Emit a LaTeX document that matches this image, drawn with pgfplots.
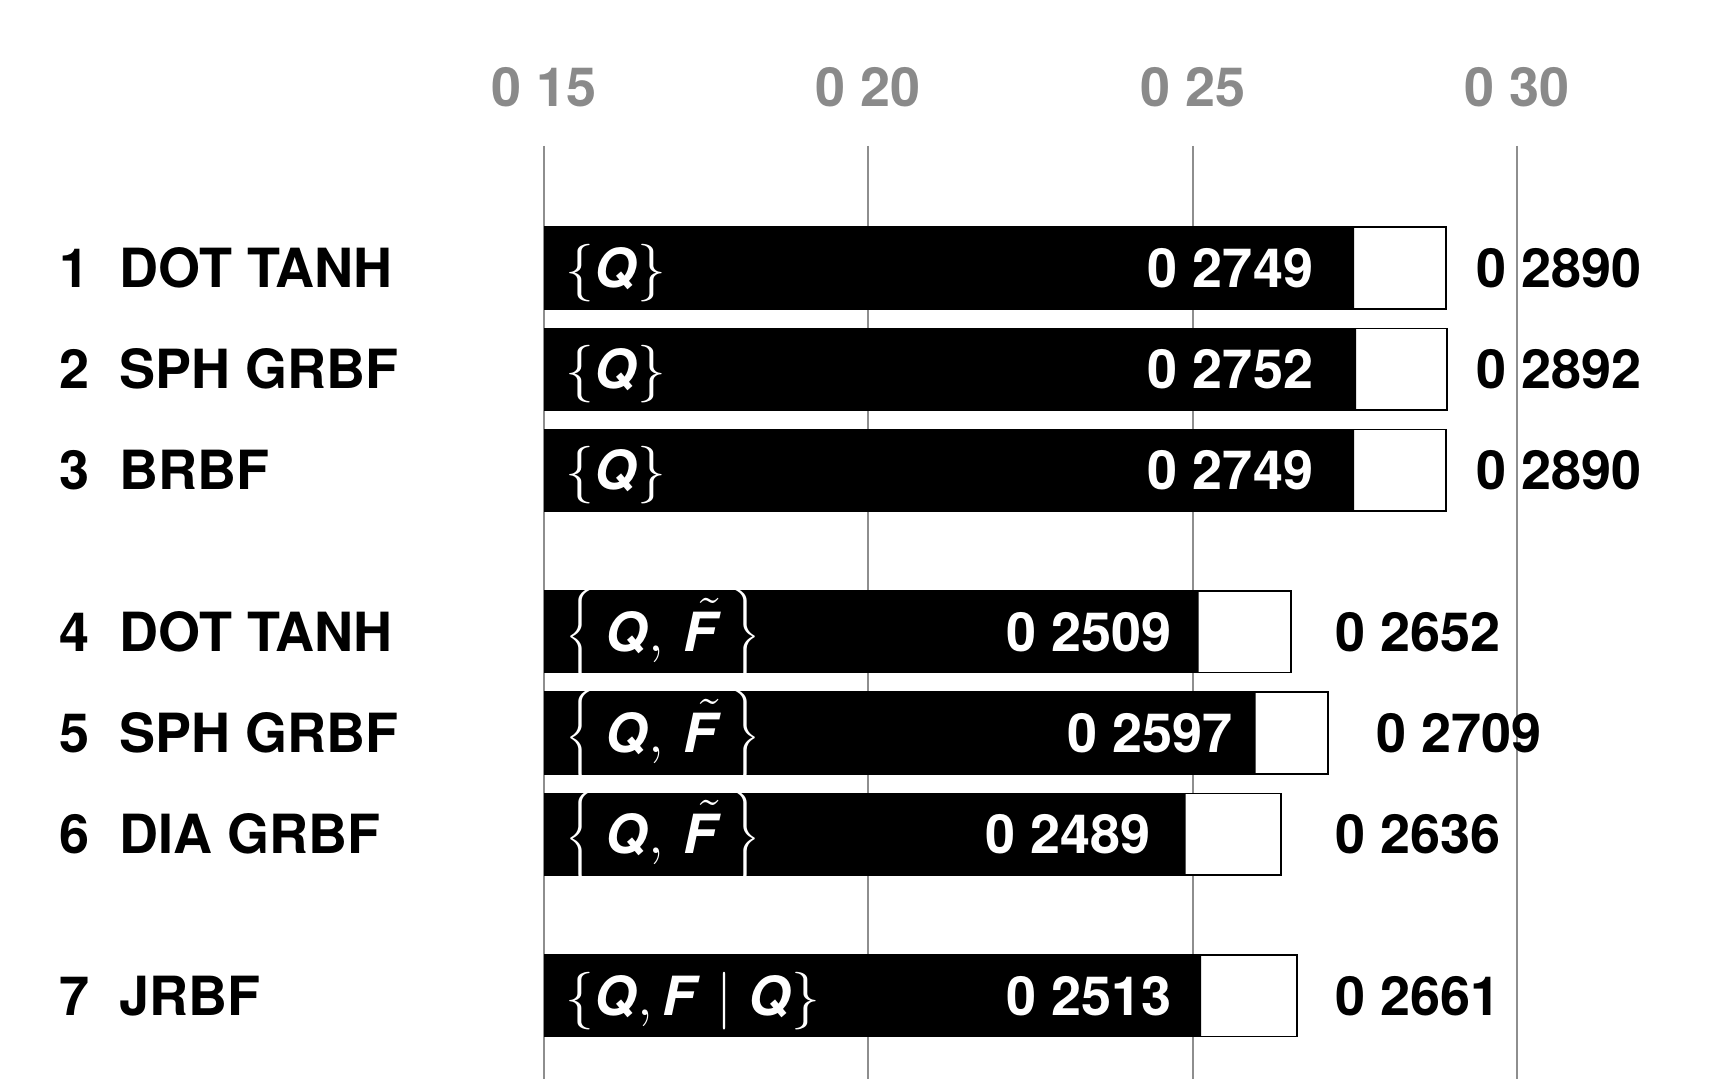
\documentclass[border=0pt]{standalone}
\usepackage{pgfplots}
\pgfplotsset{compat=1.18}
\usepackage{pgfplotstable}
\usepackage{fontspec}
\setmainfont{TeX Gyre Heros}
\definecolor{gridgray}{HTML}{8E8E8E}
\definecolor{tickgray}{HTML}{8A8A8A}
\newcommand{\lab}[1]{\makebox[15.1pt][l]{#1}}
\newcommand{\bi}[1]{\textbf{\textit{#1}}}
\newcommand{\mainfont}{\fontsize{13.5}{16}\selectfont\bfseries}
\newcommand{\Ft}{\skew{5}\tilde{\bi{F}}}
\tikzset{setlab/.style={anchor=base west, inner sep=0pt, text=white, yshift=-4.85pt}}

% y: row position, a: black bar end, b: white box end
\pgfplotstableread{
y    a      b
0    0.2749 0.2890
1    0.2752 0.2892
2    0.2749 0.2890
3.6  0.2509 0.2652
4.6  0.2597 0.2709
5.6  0.2489 0.2636
7.2  0.2513 0.2661
}\datatable

\begin{document}
\begin{tikzpicture}
\mainfont
\begin{axis}[
  scale only axis, width=243.25pt, height=233.25pt,
  xmin=0.15, xmax=0.30, ymin=-1.207, ymax=8.022, y dir=reverse,
  axis line style={draw=none}, major tick length=0pt,
  clip mode=individual,
  xtick={0.15,0.20,0.25,0.30}, xticklabels={0 15,0 20,0 25,0 30},
  xticklabel pos=upper,
  xticklabel style={anchor=base, yshift=9.85pt, inner sep=0pt, text=tickgray, font=\mainfont},
  ytick={0,1,2,3.6,4.6,5.6,7.2},
  yticklabels={\lab{1}DOT TANH,\lab{2}SPH GRBF,\lab{3}BRBF,\lab{4}DOT TANH,\lab{5}SPH GRBF,\lab{6}DIA GRBF,\lab{7}JRBF},
  yticklabel style={anchor=west, xshift=-121.4pt, inner sep=0pt, font=\mainfont},
  xmajorgrids, ymajorgrids=false,
  grid style={gridgray, line width=0.5pt},
]
\addplot[xbar, bar width=0.804, bar shift=0pt, fill=white, draw=black, line width=0.45pt] table[x=b, y=y] \datatable;
\addplot[xbar, bar width=0.804, bar shift=0pt, fill=black, draw=none] table[x=a, y=y] \datatable;

% value labels
\node[anchor=east, inner sep=0pt, text=white] at (axis cs:0.26869,0) {0 2749};
\node[anchor=east, inner sep=0pt, text=white] at (axis cs:0.26869,1) {0 2752};
\node[anchor=east, inner sep=0pt, text=white] at (axis cs:0.26869,2) {0 2749};
\node[anchor=east, inner sep=0pt, text=white] at (axis cs:0.24683,3.6) {0 2509};
\node[anchor=east, inner sep=0pt, text=white] at (axis cs:0.25631,4.6) {0 2597};
\node[anchor=east, inner sep=0pt, text=white] at (axis cs:0.24361,5.6) {0 2489};
\node[anchor=east, inner sep=0pt, text=white] at (axis cs:0.24683,7.2) {0 2513};

\node[anchor=west, inner sep=0pt] at (axis cs:0.29360,0) {0 2890};
\node[anchor=west, inner sep=0pt] at (axis cs:0.29360,1) {0 2892};
\node[anchor=west, inner sep=0pt] at (axis cs:0.29360,2) {0 2890};
\node[anchor=west, inner sep=0pt] at (axis cs:0.27191,3.6) {0 2652};
\node[anchor=west, inner sep=0pt] at (axis cs:0.27818,4.6) {0 2709};
\node[anchor=west, inner sep=0pt] at (axis cs:0.27191,5.6) {0 2636};
\node[anchor=west, inner sep=0pt] at (axis cs:0.27191,7.2) {0 2661};

% set labels
\node[setlab] at (axis cs:0.15325,0) {$\{\bi{Q}\}$};
\node[setlab] at (axis cs:0.15325,1) {$\{\bi{Q}\}$};
\node[setlab] at (axis cs:0.15325,2) {$\{\bi{Q}\}$};
\node[setlab] at (axis cs:0.15325,3.6) {$\left\{\rule[-9pt]{0pt}{25pt}\,\bi{Q},\,\Ft\,\right\}$};
\node[setlab] at (axis cs:0.15325,4.6) {$\left\{\rule[-9pt]{0pt}{25pt}\,\bi{Q},\,\Ft\,\right\}$};
\node[setlab] at (axis cs:0.15325,5.6) {$\left\{\rule[-9pt]{0pt}{25pt}\,\bi{Q},\,\Ft\,\right\}$};
\node[setlab] at (axis cs:0.15325,7.2) {$\{\bi{Q},\bi{F}\mid\bi{Q}\}$};

\coordinate (BL) at (axis cs:0.066136,8.022);
\coordinate (TR) at (axis cs:0.33191,-2.651);
\end{axis}
\pgfresetboundingbox
\useasboundingbox (BL) rectangle (TR);
\end{tikzpicture}
\end{document}
